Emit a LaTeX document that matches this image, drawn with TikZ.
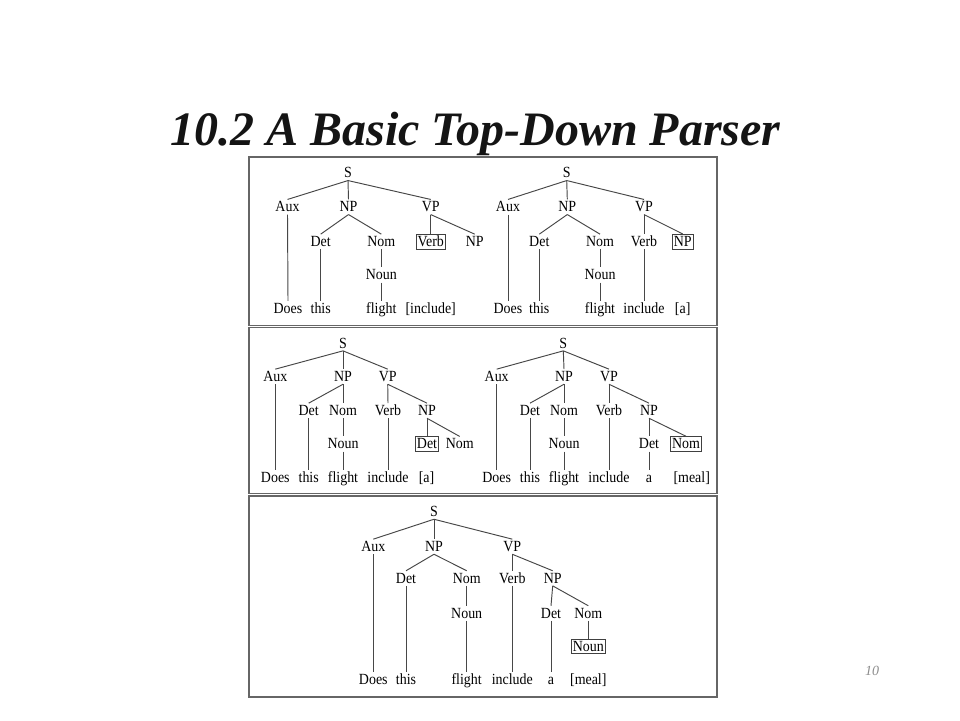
\documentclass[tikz,border=0pt]{standalone}
\usepackage{fontspec}
\setmainfont{Liberation Serif}
\newfontfamily\treefont[FakeStretch=0.9]{Liberation Serif}
\begin{document}
\begin{tikzpicture}[x=1pt,y=-1pt,
  tn/.style={inner sep=1.6pt,text height=10.5pt,text depth=1pt,font=\treefont\fontsize{15.5}{16}\selectfont,text=black},
  hl/.style={tn,draw=black!75,line width=0.8pt},
  edge/.style={draw=black!72,line width=0.95pt},
  panel/.style={draw=black!60,line width=1.1pt}]
\useasboundingbox[fill=white] (0,0) rectangle (960,720);
% title
\node[font=\fontsize{48}{50}\selectfont\bfseries\itshape,text=black!92,anchor=base] (title) at (475.5,145) {10.2 A Basic Top-Down Parser};
\node[font=\fontsize{14}{16}\selectfont\itshape,text=black!45] (pgno) at (872,671) {10};
% panels
\draw[panel] (249,157) rectangle (717,325.5);
\draw[panel] (249,327.5) rectangle (717,493.5);
\draw[panel] (249,496) rectangle (717,697);
% ---------- tree a ----------
\node[tn] (aS) at (348,173) {S};
\node[tn] (aAux) at (287.5,207) {Aux};
\node[tn] (aNP) at (348.5,207) {NP};
\node[tn] (aVP) at (430.7,207) {VP};
\node[tn] (aDet) at (320.7,241.7) {Det};
\node[tn] (aNom) at (381.3,241.7) {Nom};
\node[hl] (aVerb) at (430.7,241.7) {Verb};
\node[tn] (aNPb) at (474.7,241.7) {NP};
\node[tn] (aNoun) at (381.3,275) {Noun};
\node[tn] (aw1) at (288,308.3) {Does};
\node[tn] (aw2) at (320.7,308.3) {this};
\node[tn] (aw3) at (381.3,308.3) {flight};
\node[tn] (aw4) at (430.7,308.3) {[include]};
\foreach \p/\c in {aS/aAux,aS/aNP,aS/aVP,aNP/aDet,aNP/aNom,aVP/aVerb,aVP/aNPb,aNom/aNoun,aAux/aw1,aDet/aw2,aNoun/aw3}
  \draw[edge] (\p.south) -- (\c.north);
% ---------- tree b ----------
\node[tn] (bS) at (566.7,173) {S};
\node[tn] (bAux) at (508,207) {Aux};
\node[tn] (bNP) at (567.3,207) {NP};
\node[tn] (bVP) at (644,207) {VP};
\node[tn] (bDet) at (539.3,241.7) {Det};
\node[tn] (bNom) at (600,241.7) {Nom};
\node[tn] (bVerb) at (644,241.7) {Verb};
\node[hl] (bNPb) at (682.7,241.7) {NP};
\node[tn] (bNoun) at (600,275) {Noun};
\node[tn] (bw1) at (508,308.3) {Does};
\node[tn] (bw2) at (539.3,308.3) {this};
\node[tn] (bw3) at (600,308.3) {flight};
\node[tn] (bw4) at (644,308.3) {include};
\node[tn] (bw5) at (682.7,308.3) {[a]};
\foreach \p/\c in {bS/bAux,bS/bNP,bS/bVP,bNP/bDet,bNP/bNom,bVP/bVerb,bVP/bNPb,bNom/bNoun,bAux/bw1,bDet/bw2,bNoun/bw3,bVerb/bw4}
  \draw[edge] (\p.south) -- (\c.north);
% ---------- tree c ----------
\node[tn] (cS) at (343,343.3) {S};
\node[tn] (cAux) at (275.3,376.7) {Aux};
\node[tn] (cNP) at (343,376.7) {NP};
\node[tn] (cVP) at (387.7,376.7) {VP};
\node[tn] (cDet) at (308.7,410.7) {Det};
\node[tn] (cNom) at (343,410.7) {Nom};
\node[tn] (cVerb) at (388,410.7) {Verb};
\node[tn] (cNPb) at (427,410.7) {NP};
\node[tn] (cNoun) at (343,444) {Noun};
\node[hl] (cDetb) at (427,444) {Det};
\node[tn] (cNomb) at (459.7,444) {Nom};
\node[tn] (cw1) at (275.3,477.7) {Does};
\node[tn] (cw2) at (308.7,477.7) {this};
\node[tn] (cw3) at (343,477.7) {flight};
\node[tn] (cw4) at (388,477.7) {include};
\node[tn] (cw5) at (426.5,477.7) {[a]};
\foreach \p/\c in {cS/cAux,cS/cNP,cS/cVP,cNP/cDet,cNP/cNom,cVP/cVerb,cVP/cNPb,cNom/cNoun,cNPb/cDetb,cNPb/cNomb,cAux/cw1,cDet/cw2,cNoun/cw3,cVerb/cw4}
  \draw[edge] (\p.south) -- (\c.north);
% ---------- tree d ----------
\node[tn] (dS) at (563.3,343.3) {S};
\node[tn] (dAux) at (496.7,376.7) {Aux};
\node[tn] (dNP) at (564,376.7) {NP};
\node[tn] (dVP) at (609,376.7) {VP};
\node[tn] (dDet) at (530,410.7) {Det};
\node[tn] (dNom) at (564,410.7) {Nom};
\node[tn] (dVerb) at (609,410.7) {Verb};
\node[tn] (dNPb) at (649,410.7) {NP};
\node[tn] (dNoun) at (564,444) {Noun};
\node[tn] (dDetb) at (649,444) {Det};
\node[hl] (dNomb) at (686,444) {Nom};
\node[tn] (dw1) at (496.7,477.7) {Does};
\node[tn] (dw2) at (530,477.7) {this};
\node[tn] (dw3) at (564,477.7) {flight};
\node[tn] (dw4) at (609,477.7) {include};
\node[tn] (dw5) at (649,477.7) {a};
\node[tn] (dw6) at (691.7,477.7) {[meal]};
\foreach \p/\c in {dS/dAux,dS/dNP,dS/dVP,dNP/dDet,dNP/dNom,dVP/dVerb,dVP/dNPb,dNom/dNoun,dNPb/dDetb,dNPb/dNomb,dAux/dw1,dDet/dw2,dNoun/dw3,dVerb/dw4,dDetb/dw5}
  \draw[edge] (\p.south) -- (\c.north);
% ---------- tree e ----------
\node[tn] (eS) at (434,511.7) {S};
\node[tn] (eAux) at (373.3,546.7) {Aux};
\node[tn] (eNP) at (434,546.7) {NP};
\node[tn] (eVP) at (512.3,546.7) {VP};
\node[tn] (eDet) at (406,578.3) {Det};
\node[tn] (eNom) at (466.7,578.3) {Nom};
\node[tn] (eVerb) at (512.3,578.3) {Verb};
\node[tn] (eNPb) at (552.7,578.3) {NP};
\node[tn] (eNoun) at (466.7,613.3) {Noun};
\node[tn] (eDetb) at (551,613.3) {Det};
\node[tn] (eNomb) at (588.3,613.3) {Nom};
\node[hl] (eNounb) at (588.3,646.3) {Noun};
\node[tn] (ew1) at (373.3,680) {Does};
\node[tn] (ew2) at (406,680) {this};
\node[tn] (ew3) at (466.7,680) {flight};
\node[tn] (ew4) at (512.3,680) {include};
\node[tn] (ew5) at (551,680) {a};
\node[tn] (ew6) at (588.3,680) {[meal]};
\foreach \p/\c in {eS/eAux,eS/eNP,eS/eVP,eNP/eDet,eNP/eNom,eVP/eVerb,eVP/eNPb,eNom/eNoun,eNPb/eDetb,eNPb/eNomb,eNomb/eNounb,eAux/ew1,eDet/ew2,eNoun/ew3,eVerb/ew4,eDetb/ew5}
  \draw[edge] (\p.south) -- (\c.north);
\end{tikzpicture}
\end{document}
